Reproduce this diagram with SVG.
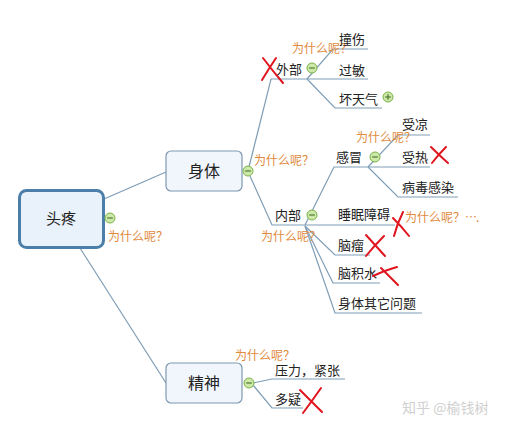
<svg xmlns="http://www.w3.org/2000/svg" width="509" height="430" viewBox="0 0 509 430">
<style>
text{font-family:"Noto Sans CJK SC","Liberation Sans",sans-serif;fill:#222}
.t{font-size:13px}
.b{font-size:16px}
.q{font-size:12px;fill:#e08a3c}
.ln{stroke:#7f9db6;stroke-width:1.2;fill:none}
.box{fill:#f1f6fc;stroke:#7d98b0;stroke-width:1.2}
.x{stroke:#e0141e;stroke-width:2;fill:none;stroke-linecap:round}
.wm{font-size:14px;fill:#d0d0d0}
</style>
<defs>
<g id="minus"><circle r="5" fill="#cde8a8" stroke="#79b24a" stroke-width="1"/><line x1="-2.8" y1="0" x2="2.8" y2="0" stroke="#4c7a2e" stroke-width="1.2"/></g>
<g id="plus"><circle r="5" fill="#cde8a8" stroke="#79b24a" stroke-width="1"/><line x1="-2.8" y1="0" x2="2.8" y2="0" stroke="#4c7a2e" stroke-width="1.2"/><line x1="0" y1="-2.8" x2="0" y2="2.8" stroke="#4c7a2e" stroke-width="1.2"/></g>
</defs>
<rect width="509" height="430" fill="#fff"/>
<g id="connectors">
<line class="ln" x1="104" y1="199" x2="166" y2="172"/>
<line class="ln" x1="80" y1="248" x2="166" y2="383"/>
<polyline class="ln" points="249,167 271,79 307,79"/>
<polyline class="ln" points="307,79 333,49 368,49"/>
<polyline class="ln" points="307,79 368,79"/>
<polyline class="ln" points="307,79 335,108 382,108"/>
<polyline class="ln" points="250,176 272,225 395,225"/>
<polyline class="ln" points="305,225 334,167 368,167"/>
<polyline class="ln" points="368,167 398,135 430,135"/>
<polyline class="ln" points="368,167 430,167"/>
<polyline class="ln" points="368,167 398,197 458,197"/>
<polyline class="ln" points="305,226 335,255 370,255"/>
<polyline class="ln" points="305,226 333,283 380,283"/>
<polyline class="ln" points="305,226 335,313 422,313"/>
<polyline class="ln" points="253,383 272,379 345,379"/>
<polyline class="ln" points="253,385 272,408 303,408"/>
</g>
<g id="root">
<rect x="19.5" y="190.5" width="84" height="57" rx="7" fill="#e9f1fb" stroke="#4b7fa9" stroke-width="3"/>
<text class="b" x="61" y="224" text-anchor="middle" style="font-size:15px">头疼</text>
<use href="#minus" x="110" y="218"/>
<text class="q" x="108" y="241">为什么呢？</text>
</g>
<g id="shenti">
<rect class="box" x="166" y="151" width="76" height="40" rx="5"/>
<text class="b" x="204" y="177" text-anchor="middle">身体</text>
<use href="#minus" x="248" y="171"/>
<text class="q" x="254" y="165">为什么呢？</text>
</g>
<g id="jingshen">
<rect class="box" x="166" y="363" width="76" height="40" rx="5"/>
<text class="b" x="204" y="389" text-anchor="middle">精神</text>
<use href="#minus" x="249" y="383"/>
<text class="q" x="235" y="360">为什么呢？</text>
</g>
<g id="waibu">
<text class="t" x="276" y="74">外部</text>
<use href="#minus" x="312" y="68"/>
<text class="q" x="292" y="53">为什么呢？</text>
<path class="x" d="M263,58 Q272,70 283,83 M276,58 Q268,70 262,80"/>
</g>
<g id="zhuangshang"><text class="t" x="339" y="44">撞伤</text></g>
<g id="guomin"><text class="t" x="339" y="75">过敏</text></g>
<g id="huaitianqi"><text class="t" x="339" y="104">坏天气</text><use href="#plus" x="388" y="97"/></g>
<g id="neibu">
<text class="t" x="275" y="220">内部</text>
<use href="#minus" x="312" y="215"/>
<text class="q" x="261" y="241">为什么呢？</text>
</g>
<g id="ganmao">
<text class="t" x="336" y="162">感冒</text>
<use href="#minus" x="375" y="157"/>
<text class="q" x="356" y="142">为什么呢？</text>
</g>
<g id="shouliang"><text class="t" x="402" y="129">受凉</text></g>
<g id="shoure"><text class="t" x="402" y="162">受热</text>
<path class="x" d="M431,147 Q440,156 448,163 M446,147 Q438,155 432,163"/></g>
<g id="bingdu"><text class="t" x="402" y="192">病毒感染</text></g>
<g id="shuimian"><text class="t" x="338" y="219">睡眠障碍</text>
<path class="x" d="M403,212 Q397,224 394,236 M393,218 Q402,227 409,236"/>
<text class="q" x="405" y="222">为什么呢？…<tspan dx="-1">.</tspan></text></g>
<g id="naoliu"><text class="t" x="338" y="250">脑瘤</text>
<path class="x" d="M366,235 Q376,246 385,256 M384,236 Q374,246 366,256"/></g>
<g id="naojishui"><text class="t" x="338" y="278">脑积水</text>
<path class="x" d="M373,276 Q386,270 397,267 M381,268 Q390,277 398,285"/></g>
<g id="qita"><text class="t" x="338" y="308">身体其它问题</text></g>
<g id="yali"><text class="t" x="275" y="375">压力，紧张</text></g>
<g id="duoyi"><text class="t" x="275" y="404">多疑</text>
<path class="x" d="M300,390 Q311,401 322,412 M321,388 Q312,401 303,413"/></g>
<text class="wm" x="402" y="413">知乎 @榆钱树</text>
</svg>
